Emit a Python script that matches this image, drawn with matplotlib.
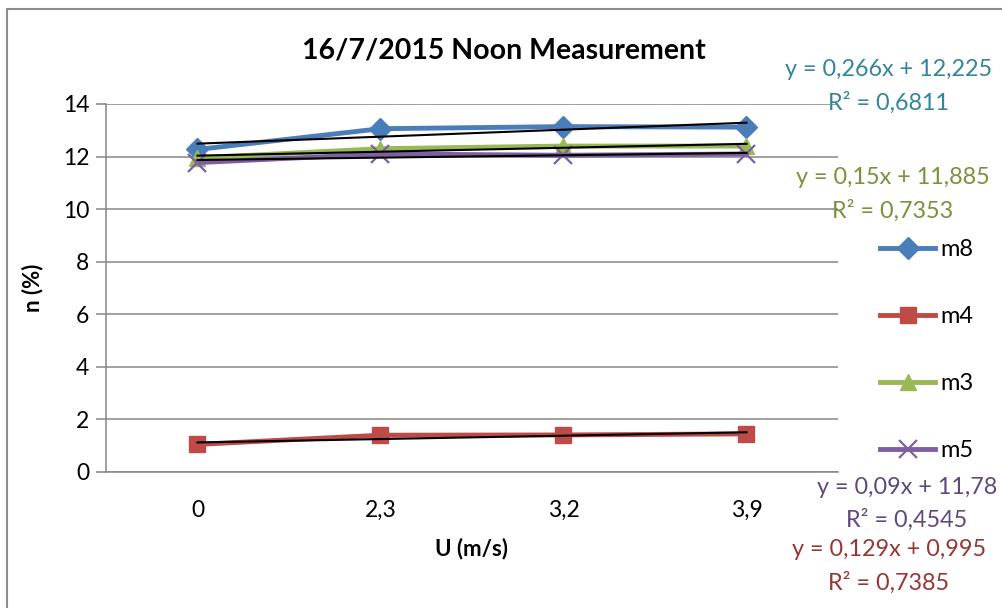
import matplotlib
matplotlib.use("Agg")
import matplotlib.pyplot as plt
from matplotlib.patches import Rectangle
import numpy as np

# ================= DATA =================
categories = ["0", "2,3", "3,2", "3,9"]          # U (m/s)
series_names = ["m8", "m4", "m3", "m5"]

m8 = [12.27, 13.06, 13.14, 13.12]
m4 = [1.05, 1.40, 1.41, 1.45]
m3 = [11.95, 12.30, 12.40, 12.40]
m5 = [11.77, 12.10, 12.05, 12.10]

# linear trendlines (x = 1..n, as in the spreadsheet)
slopes     = [0.266, 0.129, 0.15, 0.09]
intercepts = [12.225, 0.995, 11.885, 11.78]
r_squared  = [0.6811, 0.7385, 0.7353, 0.4545]

# ================= STYLE =================
plt.rcParams["font.family"] = ["Lato", "DejaVu Sans"]
W, H = 1003, 608

line_colors = ["#4A7EBB", "#BE4B48", "#98B954", "#7D60A0"]
text_colors = ["#31859C", "#953735", "#77933C", "#5F497A"]
markers = ["D", "s", "^", "x"]
marker_sizes = [11, 12, 12, 13]

# label anchor (pixel) for each trendline equation
eq_pos = [(889, 70), (889, 550), (893, 178), (907, 487)]


def fx(px):
    return px / W


def fy(py):
    return 1 - py / H


def comma(v):
    return ("%g" % v).replace(".", ",")


fig = plt.figure(figsize=(W / 100, H / 100), dpi=100)
ax = fig.add_axes([fx(106), fy(472), fx(838) - fx(106), fy(104) - fy(472)])

# chart border
fig.patches.append(Rectangle((fx(7), -0.1), 1.2, fy(9) + 0.1, transform=fig.transFigure,
                             fill=False, edgecolor="#8C8C8C", linewidth=1.5))

x = np.arange(len(categories))
data = [m8, m4, m3, m5]

for i, (name, vals) in enumerate(zip(series_names, data)):
    mew = 1.6 if markers[i] == "x" else 1
    ax.plot(x, vals, color=line_colors[i], linewidth=3.5, marker=markers[i],
            markersize=marker_sizes[i], markeredgewidth=mew,
            markeredgecolor=line_colors[i], label=name, zorder=3 + i * 0.1,
            solid_joinstyle="round")

for i in range(len(series_names)):
    xt = x + 1
    ax.plot(x, slopes[i] * xt + intercepts[i], color="black", linewidth=1.5, zorder=5)
    px, py = eq_pos[i]
    fig.text(fx(px), fy(py), "y = %sx + %s" % (comma(slopes[i]), comma(intercepts[i])),
             ha="center", va="center", fontsize=16.8, color=text_colors[i])
    fig.text(fx(px), fy(py + 33), "R² = %s" % comma(r_squared[i]),
             ha="center", va="center", fontsize=16.8, color=text_colors[i])

ax.set_xlim(-0.5, len(categories) - 0.5)
ax.set_ylim(0, 14)
ax.set_yticks(np.arange(0, 15, 2))
ax.set_xticks(x)
ax.set_xticklabels(categories)
ax.yaxis.grid(True, color="#868686", linewidth=1.1)
ax.set_axisbelow(True)

for side in ["top", "right"]:
    ax.spines[side].set_visible(False)
for side in ["left", "bottom"]:
    ax.spines[side].set_color("#868686")
    ax.spines[side].set_linewidth(1.1)

ax.tick_params(axis="y", length=7, width=1.1, color="#868686", labelsize=16.5, pad=5)
ax.tick_params(axis="x", length=0, labelsize=16.5, pad=20)

ax.set_xlabel("U (m/s)", fontsize=16, fontweight="bold", labelpad=12)
ax.set_ylabel("n (%)", fontsize=16, fontweight="bold", labelpad=14)

fig.text(fx(504), fy(50), "16/7/2015 Noon Measurement", ha="center", va="center",
         fontsize=20.5, fontweight="bold")

ax.legend(loc="center left", bbox_to_anchor=(fx(880), fy(350)), bbox_transform=fig.transFigure,
          frameon=False, fontsize=17, labelspacing=1.95, handlelength=2.35,
          handletextpad=0.2, borderpad=0, borderaxespad=0)

fig.savefig("out.png", dpi=100)
